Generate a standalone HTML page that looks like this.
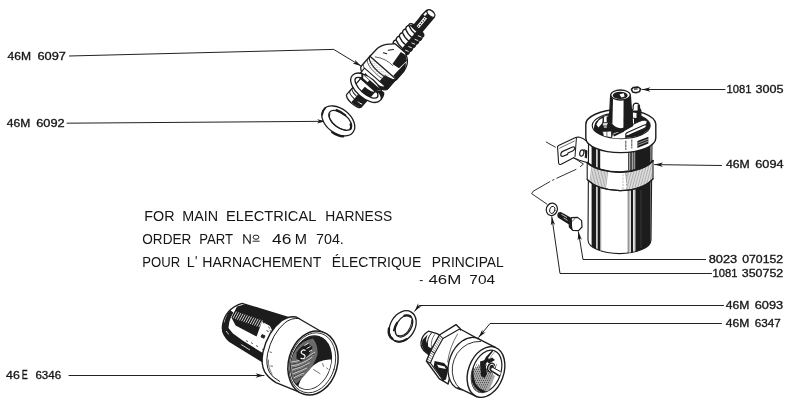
<!DOCTYPE html>
<html>
<head>
<meta charset="utf-8">
<title>Electrical harness parts</title>
<style>
html,body{margin:0;padding:0;background:#fff;}
body{width:800px;height:400px;overflow:hidden;font-family:"Liberation Sans",sans-serif;}
svg{display:block;filter:grayscale(1);}
text{font-family:"Liberation Sans",sans-serif;fill:#151515;}
.lb{font-size:10.3px;stroke:#151515;stroke-width:0.3px;}
.tx{font-size:13.8px;}
.ld{fill:none;stroke:#222;stroke-width:1;stroke-linecap:round;stroke-linejoin:round;}
.ar{fill:#1a1a1a;stroke:none;}
.o{fill:#fff;stroke:#1c1c1c;stroke-width:1.1;stroke-linejoin:round;stroke-linecap:round;}
.ot{fill:#fff;stroke:#1c1c1c;stroke-width:1.6;stroke-linejoin:round;stroke-linecap:round;}
.n{fill:none;stroke:#1c1c1c;stroke-width:1;stroke-linejoin:round;stroke-linecap:round;}
.nt{fill:none;stroke:#1c1c1c;stroke-width:1.7;stroke-linejoin:round;stroke-linecap:round;}
.nl{fill:none;stroke:#333;stroke-width:0.7;stroke-linejoin:round;stroke-linecap:round;}
.k{fill:#1c1c1c;stroke:none;}
.g{fill:#777;stroke:none;}
.w{fill:#fff;stroke:none;}
.wl{fill:none;stroke:#fff;stroke-width:0.9;stroke-linecap:round;}
.h{fill:none;stroke:#666;stroke-width:0.55;}
.hd{fill:none;stroke:#222;stroke-width:0.7;}
</style>
</head>
<body>
<svg width="800" height="400" viewBox="0 0 800 400">
<rect x="0" y="0" width="800" height="400" fill="#ffffff"/>
<!-- p_text -->
<g id="labels" class="lb">
<text x="7.6" y="59.8" textLength="23.5" lengthAdjust="spacingAndGlyphs">46M</text>
<text x="37.5" y="59.8" textLength="28.5" lengthAdjust="spacingAndGlyphs">6097</text>
<text x="6.8" y="127" textLength="23.5" lengthAdjust="spacingAndGlyphs">46M</text>
<text x="36.2" y="127" textLength="28.5" lengthAdjust="spacingAndGlyphs">6092</text>
<text x="6" y="379" textLength="13.8" lengthAdjust="spacingAndGlyphs" style="font-size:11.5px">46</text>
<text x="21.8" y="379" textLength="6" lengthAdjust="spacingAndGlyphs" style="font-size:12.4px">E</text>
<text x="35.4" y="378.7" textLength="25.8" lengthAdjust="spacingAndGlyphs" style="font-size:10px">6346</text>
<text x="726.4" y="93.2" textLength="25" lengthAdjust="spacingAndGlyphs">1081</text>
<text x="755.6" y="93.2" textLength="28" lengthAdjust="spacingAndGlyphs">3005</text>
<text x="726" y="168.2" textLength="23.8" lengthAdjust="spacingAndGlyphs">46M</text>
<text x="755.3" y="168.2" textLength="28.2" lengthAdjust="spacingAndGlyphs">6094</text>
<text x="708.7" y="263.2" textLength="28.5" lengthAdjust="spacingAndGlyphs">8023</text>
<text x="742.2" y="263.2" textLength="41" lengthAdjust="spacingAndGlyphs">070152</text>
<text x="712.4" y="277" textLength="25" lengthAdjust="spacingAndGlyphs">1081</text>
<text x="741.8" y="277" textLength="41.4" lengthAdjust="spacingAndGlyphs">350752</text>
<text x="725.8" y="309" textLength="23.6" lengthAdjust="spacingAndGlyphs">46M</text>
<text x="754.7" y="309" textLength="28.4" lengthAdjust="spacingAndGlyphs">6093</text>
<text x="725.8" y="327" textLength="23.6" lengthAdjust="spacingAndGlyphs">46M</text>
<text x="754.7" y="327" textLength="26" lengthAdjust="spacingAndGlyphs">6347</text>
</g>
<g id="maintext" class="tx">
<text x="144.3" y="221.3" textLength="30.2" lengthAdjust="spacingAndGlyphs">FOR</text>
<text x="182.3" y="221.3" textLength="35.8" lengthAdjust="spacingAndGlyphs">MAIN</text>
<text x="226" y="221.3" textLength="90.3" lengthAdjust="spacingAndGlyphs">ELECTRICAL</text>
<text x="325.3" y="221.3" textLength="66.8" lengthAdjust="spacingAndGlyphs">HARNESS</text>
<text x="142.3" y="243.8" textLength="49" lengthAdjust="spacingAndGlyphs">ORDER</text>
<text x="199.3" y="243.8" textLength="33.8" lengthAdjust="spacingAndGlyphs">PART</text>
<text x="272" y="243.8" textLength="19.4" lengthAdjust="spacingAndGlyphs">46</text>
<text x="294.8" y="243.8" textLength="12.2" lengthAdjust="spacingAndGlyphs">M</text>
<text x="316" y="243.8" textLength="27.8" lengthAdjust="spacingAndGlyphs">704.</text>
<text x="142.3" y="267" textLength="37.8" lengthAdjust="spacingAndGlyphs">POUR</text>
<text x="186.8" y="267" textLength="8" lengthAdjust="spacingAndGlyphs">L</text>
<text x="195" y="266" textLength="2.4" lengthAdjust="spacingAndGlyphs">'</text>
<text x="202.3" y="267" textLength="119" lengthAdjust="spacingAndGlyphs">HARNACHEMENT</text>
<text x="331.8" y="267" textLength="89.5" lengthAdjust="spacingAndGlyphs">ÉLECTRIQUE</text>
<text x="431.8" y="267" textLength="72" lengthAdjust="spacingAndGlyphs">PRINCIPAL</text>
<text x="419.3" y="283.9" textLength="4" lengthAdjust="spacingAndGlyphs" style="font-size:13px">-</text>
<text x="428.5" y="283.9" textLength="32.8" lengthAdjust="spacingAndGlyphs" style="font-size:13px">46M</text>
<text x="469.3" y="283.9" textLength="25.8" lengthAdjust="spacingAndGlyphs" style="font-size:13px">704</text>
<path d="M243.8 243.8 V234.3 L250.2 243.7 V234.2" fill="none" stroke="#1a1a1a" stroke-width="1.15" stroke-linejoin="bevel"/>
<ellipse cx="256" cy="237.2" rx="2.9" ry="2.1" fill="none" stroke="#222" stroke-width="1"/>
<path d="M252.6 241.2 L259.6 241.2" fill="none" stroke="#222" stroke-width="1"/>
</g>
<!-- p_leaders -->
<g id="leaders">
<path class="ld" d="M69.4 56.0 L333.7 49.4 L361.0 66.0"/>
<path class="ar" d="M361.00 66.00 L352.59 63.46 L355.77 62.82 L354.88 59.70 Z"/>
<path class="ld" d="M67.0 123.2 L325.5 121.3"/>
<path class="ar" d="M325.50 121.30 L317.02 123.56 L319.38 121.34 L316.98 119.16 Z"/>
<path class="ld" d="M69.0 375.5 L264.0 375.5"/>
<path class="ar" d="M264.00 375.50 L255.50 377.70 L257.88 375.50 L255.50 373.30 Z"/>
<path class="ld" d="M725.0 89.5 L642.0 89.5"/>
<path class="ar" d="M642.00 89.50 L650.50 87.30 L648.12 89.50 L650.50 91.70 Z"/>
<path class="ld" d="M721.5 165.5 L654.5 164.6"/>
<path class="ar" d="M654.50 164.60 L663.03 162.51 L660.62 164.68 L662.97 166.91 Z"/>
<path class="ld" d="M705.6 259.5 L583.0 259.5 L578.4 231.8"/>
<path class="ar" d="M578.40 231.80 L581.96 239.82 L579.40 237.84 L577.62 240.55 Z"/>
<path class="ld" d="M711.5 273.5 L560.0 273.5 L551.8 216.8"/>
<path class="ar" d="M551.80 216.80 L555.19 224.90 L552.68 222.86 L550.84 225.53 Z"/>
<path class="ld" d="M723.5 305.5 L419.2 305.5 L414.6 311.3"/>
<path class="ar" d="M414.60 311.30 L418.16 303.27 L418.40 306.50 L421.61 306.01 Z"/>
<path class="ld" d="M721.5 323.5 L490.0 323.5 L478.6 337.4"/>
<path class="ar" d="M478.60 337.40 L482.29 329.43 L482.48 332.67 L485.69 332.22 Z"/>
</g>
<!-- p_coil -->
<g id="coil">
<defs>
<clipPath id="cbody"><path d="M588.6 140 L588 240 A31.5 13.6 0 0 0 651 240 L652 140 Z"/></clipPath>
<clipPath id="cband"><path d="M587.2 162.5 A37 19.3 0 0 0 653 160.6 L653 178.8 A37 21.2 0 0 1 587.2 179.4 Z"/></clipPath>
<clipPath id="ccapin"><ellipse cx="621.2" cy="125.6" rx="29" ry="13"/></clipPath>
</defs>
<path class="o" d="M557.6 147.6 Q557 146.2 558.6 145.4 L575.6 137.6 Q577.2 136.9 579.6 137.3 L583 138.4 Q586 140 588.5 143.6 L588.5 163 L579.4 160.2 L573.6 157.8 L561.2 164.2 Q559 165 558.6 163 Z"/>
<path class="n" d="M576.4 138.4 L575 156.6"/>
<path class="nl" d="M559.6 148.2 L574.4 141"/>
<path class="n" style="stroke-width:1.2" d="M562.6 151.4 L572.6 147 Q575.2 146.4 574.6 148.8 Q574 150.4 572.6 151 L568 153 L567.6 154.4 L563.2 156.2 Q560.6 156.8 560.8 154.2 Q561 152.2 562.6 151.4 Z"/>
<ellipse class="n" cx="581.8" cy="153" rx="2" ry="3.2" transform="rotate(14 581.8 153)" style="stroke-width:1.2"/>
<path class="k" d="M583.4 149 Q586 152 584.6 157.6 L587 158.4 L587.4 150.4 Z"/>
<path class="o" d="M588.6 140 L588 240 A31.5 13.6 0 0 0 651 240 L652 140 Z"/>
<g clip-path="url(#cbody)">
<rect class="k" x="591.6" y="140" width="4.6" height="120"/>
<rect class="k" x="597.6" y="140" width="2.6" height="120"/>
<rect class="g" x="600.2" y="186" width="1" height="70" style="fill:#999"/>
<rect x="628" y="140" width="9" height="30" fill="#4a4a4a"/>
<path d="M629.6 140 V170 M632.6 140 V170 M634.8 140 V170" stroke="#ddd" stroke-width="0.7" fill="none"/>
<path d="M628.2 176 V260" stroke="#444" stroke-width="0.8" fill="none"/>
<path d="M629.8 176 V260" stroke="#bbb" stroke-width="1.4" fill="none"/>
<path d="M632 176 V260" stroke="#1c1c1c" stroke-width="2" fill="none"/>
<path d="M634.2 176 V260" stroke="#999" stroke-width="0.8" fill="none"/>
<rect class="k" x="635.4" y="140" width="15.2" height="120"/>
<path d="M641 190 V248" stroke="#555" stroke-width="0.5" fill="none"/>
</g>
<path class="o" d="M587.2 162.5 A37 19.3 0 0 0 653 160.6 L653 178.8 A37 21.2 0 0 1 587.2 179.4 Z"/>
<g clip-path="url(#cband)">
<g transform="translate(0,0)"><path class="h" d="M592.0 166.0 L588.5 192.0 M593.5 166.0 L590.0 192.0 M595.0 166.0 L591.5 192.0 M596.5 166.0 L593.0 192.0 M598.0 166.0 L594.5 192.0 M599.5 166.0 L596.0 192.0 M601.0 166.0 L597.5 192.0 M602.5 166.0 L599.0 192.0 M604.0 166.0 L600.5 192.0 M605.5 166.0 L602.0 192.0 M607.0 166.0 L603.5 192.0 M608.5 166.0 L605.0 192.0"/><path class="h" d="M624.0 164.0 L628.5 192.0 M625.6 164.0 L630.1 192.0 M627.2 164.0 L631.7 192.0 M628.8 164.0 L633.3 192.0 M630.4 164.0 L634.9 192.0 M632.0 164.0 L636.5 192.0 M633.6 164.0 L638.1 192.0 M635.2 164.0 L639.7 192.0 M636.8 164.0 L641.3 192.0 M638.4 164.0 L642.9 192.0 M640.0 164.0 L644.5 192.0 M641.6 164.0 L646.1 192.0 M643.2 164.0 L647.7 192.0 M644.8 164.0 L649.3 192.0 M646.4 164.0 L650.9 192.0 M648.0 164.0 L652.5 192.0 M649.6 164.0 L654.1 192.0 M651.2 164.0 L655.7 192.0"/></g>
<path d="M623 168 V194 M626.5 168 V194" stroke="#888" stroke-width="0.6" stroke-dasharray="2 1.2" fill="none"/>
</g>
<path class="nt" d="M587.2 162.5 A37 19.3 0 0 0 653 160.6"/>
<path class="n" d="M587.2 179.4 A37 21.2 0 0 0 653 178.8" style="stroke-width:1.3"/>
<path class="o" style="stroke-width:1.4" d="M585.8 125 L585.8 138 A35 14.6 0 0 0 655.8 138 L655.8 124 A35 15 0 0 0 585.8 125 Z"/>
<ellipse class="o" cx="621.2" cy="125.6" rx="29" ry="13"/>
<g clip-path="url(#ccapin)">
<path class="k" d="M593.6 130 Q594 120 603 116 L612 113 L612 124 L619 131 L634 124 L634 112.6 Q646 114 649.6 121 L650.4 128 L640 136 L612 139.6 L604 137.4 L598 134 Z"/>
<path class="w" d="M596.4 124.6 Q598.6 119.4 602.6 118 L602.4 123 L598.4 127.6 Z"/>
<path d="M611.6 137.4 L612.6 133.6 L640 121.2 Q645.6 119 647 121.6 Q647.6 124 644 126 L628 133.6 Q624 136.4 626.4 138.6 L612 140 Z" fill="#fff" stroke="#1c1c1c" stroke-width="0.9"/>
<path d="M626 135.4 Q624.8 133.6 628 132.2 L643 125.4 Q646.6 124 646.4 126 Q646.4 127.6 643.6 128.8 L630 134.8 Q627 136.2 626 135.4 Z" fill="#fff" stroke="#1c1c1c" stroke-width="1.1"/>
<path class="k" d="M613 134.6 L623 130.4 L624.4 131.6 L614 136.6 Z"/>
<path d="M603.6 116.6 Q606.2 114 609 116.6 L609.2 128 L603.4 128 Z" fill="#fff" stroke="#1c1c1c" stroke-width="0.9"/>
<path class="k" d="M606.6 116.6 L609 117 L609.2 128 L606.8 128 Z"/>
<path d="M602.6 122.6 L609.6 122.6 L609.6 126 L602.6 126 Z" fill="#ddd" stroke="#1c1c1c" stroke-width="0.8"/>
<path d="M602.4 131.4 L611.4 131 L611.6 137.6 L603.6 136.4 Z" fill="#fff" stroke="#1c1c1c" stroke-width="0.8"/>
<path class="nl" d="M606.8 131.4 L607 137"/>
</g>
<path class="k" d="M637.4 141 L648.4 136.8 L648.4 143.6 L637.4 148 Z"/>
<path d="M637.6 143.2 L648.4 139 M637.6 145.4 L648.4 141.2" stroke="#fff" stroke-width="0.55" fill="none"/>
<path class="n" d="M625.8 141 V149.6 M631.8 140 V148" style="stroke-width:0.8;stroke-dasharray:2.4 1.2"/>
<path class="o" style="stroke-width:1.2" d="M632.4 118 L632.2 110.4 L633.2 108.6 Q632.4 103.4 636.2 103.2 Q640 103.2 639.6 108.4 L640.8 110 L641 119.4 Z"/>
<path class="k" d="M637.6 104.6 Q639.8 105 639.6 108.4 L640.8 110 L641 119.4 L636.4 119 L636.6 113 L632.4 112.6 L632.4 110.4 L637.6 110.4 Z"/>
<path class="o" style="stroke-width:1.3" d="M610.7 95 L609.2 122 L607.6 125.4 Q609 130 616 131.6 Q622 132 625 130 L632.6 125.6 L630.3 95 Z"/>
<path class="k" d="M623.6 99.8 L630.4 96 L632.6 125.6 L624.4 130.6 L623.4 128 Z"/>
<path class="k" d="M610.7 96 L613 98.8 L612.4 124 L609.4 122.6 Z"/>
<path class="k" d="M607.6 125.4 Q609 130 616 131.6 Q622 132 625 130 L624 127.6 Q617 129.6 612.4 124 L609.2 122 Z"/>
<ellipse class="o" style="stroke-width:1.3" cx="620.5" cy="95" rx="9.8" ry="5"/>
<ellipse class="k" cx="620.2" cy="95.4" rx="7.4" ry="3.6"/>
<path class="w" d="M619.4 94.2 L623.8 93.2 L624.6 96.4 L621.4 97.4 Z"/>
<path d="M631.4 89.4 L633.4 87.4 L638 87 L640.6 88.8 L639.6 91.6 L636 92.8 L632.6 92 Z" fill="#fff" stroke="#1c1c1c" stroke-width="1.5" stroke-linejoin="round"/>
<path d="M634 89.2 L637.6 88.8" stroke="#1c1c1c" stroke-width="1.2" fill="none"/>
<path class="n" style="stroke-width:0.9" d="M546.2 142 L555.4 147.2 M573.4 157.6 L583.4 164 L580.4 166.6 M576 169.4 L556.8 178.2 M554 179.6 L552.6 180.2 M549.8 181.7 L533.1 191.3 L531.6 193.6 L546.8 204"/>
<ellipse class="o" cx="551.8" cy="209.3" rx="5.5" ry="6.3" transform="rotate(18 551.8 209.3)" style="stroke-width:1.2"/>
<ellipse class="n" cx="552.3" cy="209.9" rx="2.6" ry="3.7" transform="rotate(18 552.3 209.9)" style="stroke-width:0.9"/>
<path class="k" d="M558 212.8 Q556.6 215 557.8 217.4 L569 224.6 L572.4 218.4 L561.4 212.2 Q559.4 211.6 558 212.8 Z"/>
<path d="M561.4 214.2 L567 217.6 M563.6 217.8 L567.6 220.4" stroke="#fff" stroke-width="0.7" fill="none"/>
<path class="o" style="stroke-width:1.2" d="M571.6 217.6 L577.6 217.4 L581.6 220.6 L582 227 L578.6 230.6 L572.8 230.4 L569.4 227 L569.2 221 Z"/>
<path class="k" d="M571.6 217.6 L569.2 221 L569.4 227 L572.8 230.4 L572 226 L572 221 Z"/>
<path class="nl" d="M572 221.4 L575 218.6"/>
</g>
<!-- p_plug -->
<g id="plug" transform="translate(352 103) rotate(-48.7)">
<path class="k" d="M98 -5.6 L108 -5.8 Q112 -6.6 114.5 -6.2 L119 -5.8 Q123 -3.4 122.8 0.4 Q122.4 4.4 118.6 5.8 L112 6 L98 6.2 Z"/>
<path class="w" d="M100 -2.2 L112.6 -2.6 L113 0.6 L100 1 Z"/>
<path d="M101 -0.8 h1.2 M103.4 -0.6 h1.2 M105.8 -0.9 h1.2 M108.2 -0.7 h1.2 M110.6 -0.9 h1.2" stroke="#1c1c1c" stroke-width="1.4" fill="none"/>
<path class="w" d="M113.4 -4.6 L117.4 -4.6 L117 -2.4 L113.6 -2.6 Z"/>
<ellipse cx="119.4" cy="0.2" rx="2.5" ry="4.7" fill="#fff" stroke="#1c1c1c" stroke-width="1.1"/>
<path class="o" style="stroke-width:1.3" d="M72 -8.6 Q74.3 -10.4 76.6 -8.6 Q79 -10.4 81.4 -8.6 Q83.8 -10.4 86.2 -8.6 Q88.6 -10.4 91 -8.6 Q93.4 -10.4 95.8 -8.6 Q97.6 -9.8 99 -7.6 L99.6 -5.4 L99.6 6 L99 8.4 Q97.6 10.6 95.8 9.2 Q93.4 11 91 9.2 Q88.6 11 86.2 9.2 Q83.8 11 81.4 9.2 Q79 11 76.6 9.2 Q74.3 11 72 9.2 Z"/>
<path class="k" d="M72 1.6 L99.6 1 L99.6 6 L99 8.4 Q97.6 10.6 95.8 9.2 Q93.4 11 91 9.2 Q88.6 11 86.2 9.2 Q83.8 11 81.4 9.2 Q79 11 76.6 9.2 Q74.3 11 72 9.2 Z"/>
<path class="n" style="stroke-width:1.3" d="M76.6 -8.6 Q73.8 -3 74.4 2"/>
<path class="wl" style="stroke-width:0.8" d="M75.0 5.4 L76.0 8.2"/>
<path class="n" style="stroke-width:1.3" d="M81.4 -8.6 Q78.6 -3 79.2 2"/>
<path class="wl" style="stroke-width:0.8" d="M79.8 5.4 L80.8 8.2"/>
<path class="n" style="stroke-width:1.3" d="M86.2 -8.6 Q83.4 -3 84.0 2"/>
<path class="wl" style="stroke-width:0.8" d="M84.6 5.4 L85.6 8.2"/>
<path class="n" style="stroke-width:1.3" d="M91.0 -8.6 Q88.2 -3 88.8 2"/>
<path class="wl" style="stroke-width:0.8" d="M89.4 5.4 L90.4 8.2"/>
<path class="n" style="stroke-width:1.3" d="M95.8 -8.6 Q93.0 -3 93.6 2"/>
<path class="wl" style="stroke-width:0.8" d="M94.2 5.4 L95.2 8.2"/>
<path class="k" d="M96.4 -8.6 L99.6 -5.4 L99.6 1.4 L96 1.4 Z"/>
<path class="o" style="stroke-width:1.3" d="M47 -17.4 L58 -17 Q66 -15 70 -9.4 L73 -6.8 L73 7 L70 12 Q66 17 58 18 L47 18 A6.3 17.6 0 0 1 47 -17.4 Z"/>
<path class="k" d="M56 4.6 L70.6 3 L71.4 8.6 L68 13.4 L57 12.4 Z"/>
<path class="k" d="M48 13 L66 13.6 Q62 17.8 57.6 18.2 L47 18.2 Z"/>
<path class="n" style="stroke-width:1.1" d="M63.6 -7.6 L67.6 -4.2 M58.4 -9.6 L60 -6.4"/>
<path class="nl" d="M50 -13 Q56 -4 55 6"/>
<path class="o" style="stroke-width:1.3" d="M47.0 -17.4 L34.0 -17.4 A6.3 17.4 0 0 0 34.0 17.4 L47.0 17.4 Z"/>
<path class="k" d="M28.7 6.3 A6.3 17.6 0 0 0 34.6 18.0 L48.6 18.0 A6.3 17.6 0 0 1 42.7 6.3 Z"/>
<path class="n" style="stroke-width:1.2" d="M47.0 -17.4 A6.3 17.4 0 0 0 47.0 17.4"/>
<path class="nl"  d="M44.0 -17.4 A6.3 17.4 0 0 0 39.1 11.0"/>
<path class="nl"  d="M38.0 -17.4 A6.3 17.4 0 0 0 33.1 11.0"/>
<path d="M41.4 -13.0 h0.6 M40.6 -10.4 h0.6 M40.0 -7.8 h0.6 M39.6 -5.2 h0.6 M39.4 -2.6 h0.6 M39.3 0.0 h0.6 M39.4 2.6 h0.6 M39.6 5.2 h0.6 M40.0 7.8 h0.6 M42.2 -11.7 h0.6 M41.5 -9.1 h0.6 M41.0 -6.5 h0.6 M40.7 -3.9 h0.6 M40.6 -1.3 h0.6 M40.6 1.3 h0.6 M40.7 3.9 h0.6 M41.0 6.5 h0.6 M41.5 9.1 h0.6 M43.8 -13.0 h0.6 M43.0 -10.4 h0.6 M42.4 -7.8 h0.6 M42.0 -5.2 h0.6 M41.8 -2.6 h0.6 M41.7 0.0 h0.6 M41.8 2.6 h0.6 M42.0 5.2 h0.6 M42.4 7.8 h0.6 M44.6 -11.7 h0.6 M43.9 -9.1 h0.6 M43.4 -6.5 h0.6 M43.1 -3.9 h0.6 M43.0 -1.3 h0.6 M43.0 1.3 h0.6 M43.1 3.9 h0.6 M43.4 6.5 h0.6 M43.9 9.1 h0.6 M46.2 -13.0 h0.6 M45.4 -10.4 h0.6 M44.8 -7.8 h0.6 M44.4 -5.2 h0.6 M44.2 -2.6 h0.6 M44.1 0.0 h0.6 M44.2 2.6 h0.6 M44.4 5.2 h0.6 M44.8 7.8 h0.6" stroke="#444" stroke-width="0.6" fill="none"/>
<path class="o"  d="M34.5 -13.6 L27.0 -13.6 A4.9 13.6 0 0 0 27.0 13.6 L34.5 13.6 Z"/>
<path class="k" d="M23.9 -9.5 A4.9 13.6 0 0 0 27.4 13.6 L35.0 13.6 A4.9 13.6 0 0 1 31.5 -9.5 Z"/>
<path class="wl"  d="M26.9 -9.0 A4.9 13.6 0 0 0 26.2 6.0"/>
<path class="n"  d="M31.0 -13.6 A4.9 13.6 0 0 0 26.2 -3.0"/>
<path class="o" style="stroke-width:1.3" d="M24.0 -9.6 L3.0 -9.6 A3.5 9.6 0 0 0 3.0 9.6 L24.0 9.6 Z"/>
<path class="k" d="M-0.0 -1.0 A3.5 9.6 0 0 0 3.4 9.6 L24.0 9.6 A3.5 9.6 0 0 1 20.6 -1.0 Z"/>
<path class="n"  d="M8.0 -9.6 A3.5 9.6 0 0 0 4.6 -1.0"/>
<path class="n"  d="M11.5 -9.6 A3.5 9.6 0 0 0 8.1 -1.0"/>
<path class="n"  d="M15.0 -9.6 A3.5 9.6 0 0 0 11.6 -1.0"/>
<path class="wl" d="M5 4 Q4.4 6 5.6 8"/>
<ellipse cx="21" cy="0.8" rx="8.2" ry="16.6" fill="none" stroke="#1c1c1c" stroke-width="5.6"/>
<ellipse cx="21" cy="0.8" rx="8.2" ry="16.6" fill="none" stroke="#fff" stroke-width="3"/>
<path class="k" d="M25 -9.6 L29 -13 L29 13.8 L25 9.8 Z"/>
<path class="w" d="M26 -8 L28.4 -10 L28.4 -2 L26 -2 Z"/>
<path class="k" d="M24 9 Q30 14 29 17.6 Q26 20.4 21 20 Q27 15 24 9 Z"/>
</g>
<!-- p_washers -->
<g id="washers">
<g transform="translate(338.3 120.9) rotate(38)">
<ellipse class="o" cx="0" cy="0" rx="18.6" ry="12.2" style="stroke-width:1.3"/>
<path class="n" style="stroke-width:2.2" d="M2 12.6 Q9 12.4 13.4 9.2"/>
<path class="n" style="stroke-width:1.6" d="M-18.2 -2.4 Q-18.8 1.6 -16.4 5.4"/>
<ellipse class="o" cx="1.2" cy="-1.6" rx="13.4" ry="7" style="stroke-width:1.3"/>
<path class="n" style="stroke-width:2.2" d="M-8 -7.4 Q-3 -9 2 -8.7"/>
<path class="n" style="stroke-width:2" d="M11.6 -5 Q14.6 -3 14.6 -1"/>
<path class="n" style="stroke-width:1" d="M-11 -0.4 Q-10 4 -3 5.4 Q6 6.2 12 2.4"/>
</g>
<g transform="translate(402.7 326.3) rotate(-59)">
<ellipse class="o" cx="0" cy="0" rx="16.6" ry="12.2" style="stroke-width:1.3"/>
<path class="n" style="stroke-width:2.4" d="M-16 -2.4 Q-16 -8 -9 -10.6"/>
<path class="n" style="stroke-width:2" d="M-16.4 1 Q-15.4 7 -9 10"/>
<ellipse class="o" cx="0.8" cy="1" rx="11.8" ry="7.4" style="stroke-width:1.3"/>
<path class="n" style="stroke-width:1" d="M-10 0.6 Q-9.4 5.6 -2 7 Q5 7.6 10 4.6"/>
<path class="n" style="stroke-width:2.2" d="M10 -4 Q12.6 -1.6 12.4 1.6"/>
<path class="n" style="stroke-width:2" d="M-8 -5.4 Q-4 -6.8 0 -6.6"/>
</g>
</g>
<!-- p_socket -->
<g id="socket">
<defs>
<clipPath id="sk_open"><ellipse cx="311" cy="362.6" rx="19.6" ry="27.2" transform="rotate(17 311 362.6)"/></clipPath>
<clipPath id="sk_body"><path d="M242 303.4 L292 318.6 L266 364 L229.6 341.4 Q221 334 222.6 325 Q225 309 242 303.4 Z"/></clipPath>
</defs>
<path class="o" style="stroke-width:1.4" d="M242 303.4 L292 318.6 L266 364 L229.6 341.4 Q221 334 222.6 325 Q225 309 242 303.4 Z"/>
<g clip-path="url(#sk_body)">
<path class="k" d="M237 306.4 L246 304 L262 307.2 L292 318.6 L282 336 L272 333 L262 321.6 L256.6 336.6 L235.6 325.6 L231.4 317.4 Z"/>
<path d="M236.6 311.6 l-3.6 6.6 M238.8 312.3 l-3.6 6.6 M240.9 313.1 l-3.6 6.6 M243.0 313.8 l-3.6 6.6 M245.2 314.5 l-3.6 6.6 M247.3 315.3 l-3.6 6.6 M249.5 316.0 l-3.6 6.6 M251.6 316.7 l-3.6 6.6 M253.8 317.5 l-3.6 6.6 M255.9 318.2 l-3.6 6.6 M258.1 318.9 l-3.6 6.6 M260.2 319.7 l-3.6 6.6 M262.4 320.4 l-3.6 6.6" stroke="#fff" stroke-width="0.8" fill="none"/>
<path class="w" d="M263.6 322.6 L270 326 L272.6 331.6 L266 328.6 Z"/>
<path class="k" d="M230 310 Q224 318 223.4 329 L228.6 333.6 Q227.4 322 233.4 312.6 Z"/>
<path class="k" d="M223 320 L227.6 327 L233 333.6 L243 340.8 L262 352.6 L270 357 L266 366 L236 350.4 L224.6 340.6 L221 330 Z"/>
<path d="M226 331 L232 338 M238 342.6 L250 350" stroke="#fff" stroke-width="0.8" fill="none"/>
<path class="k" d="M228.6 333.6 L236 337.4 L241.6 344.6 L238 346 L229.6 339.6 Z"/>
<path d="M246 340.6 l2 1 M251 342.6 l2 1 M256 345.6 l2 1 M262 349 l2 1 M268.6 326.6 l1 2 M272 336 l-1 2 M270 341 l1.2 .6" stroke="#333" stroke-width="0.8" fill="none"/>
<path d="M262 334.6 l3 1.2 l-1 2.4 l-3 -1.2 Z M266.6 330.6 l2 1" stroke="#222" stroke-width="0.9" fill="#222"/>
</g>
<path class="o" style="stroke-width:1.4" d="M296.2 317 Q289 315.6 281.6 320.6 Q268 331 263 352 Q260.6 364 264.6 371.6 Q268 377.6 276 382.6 L300 392.4 L322 332 Z"/>
<path class="n" style="stroke-width:1" d="M299.6 318.4 Q291 317.6 284.6 323 Q272 334 267.6 353.4 Q265.4 365 269.6 372.6 Q272 377 279.6 381.4"/>
<path class="nl" d="M268.4 360 Q268 368 272 374 M270 352 l1.6 .4 M270.6 366 l2 .2"/>
<ellipse class="o" style="stroke-width:1.5" cx="313" cy="363" rx="24.4" ry="32.6" transform="rotate(16 313 363)"/>
<ellipse class="n" style="stroke-width:0.8" cx="312.4" cy="362.8" rx="22.6" ry="30.6" transform="rotate(16.5 312.4 362.8)"/>
<ellipse class="o" style="stroke-width:1.3" cx="311" cy="362.6" rx="19.6" ry="27.2" transform="rotate(17 311 362.6)"/>
<g clip-path="url(#sk_open)">
<rect class="k" x="280" y="330" width="65" height="70"/>
<path class="w" d="M298.6 385 Q302 376 309 369.6 Q319 358.6 331.4 359.6 L340 358 L336 386 L312 398 L298 394 Z"/>
<path class="nl" d="M313.6 369.6 L320 373.6 M322.6 363.6 L323.6 366.4 M326.6 368 l1.4 1"/>
<path d="M313 338.6 Q318.6 346 317.4 355 Q314 366 305 375 Q300 380.6 296 384 Q290 378 288.6 370 Q289.6 358 296.6 348.6 Q303.6 340 313 338.6 Z" fill="#6a6a6a"/>
<path d="M290.0 362.0 Q301.0 362.0 315.0 352.0 M290.4 364.0 Q301.2 363.3 313.7 354.7 M290.9 366.0 Q301.4 364.7 312.3 357.3 M291.3 368.0 Q301.7 366.0 311.0 360.0 M291.8 370.0 Q301.9 367.3 309.7 362.7 M292.2 372.0 Q302.1 368.7 308.3 365.3 M292.7 374.0 Q302.3 370.0 307.0 368.0 M293.1 376.0 Q302.6 371.3 305.7 370.7 M293.6 378.0 Q302.8 372.7 304.3 373.3 M294.0 380.0 Q303.0 374.0 303.0 376.0" stroke="#eee" stroke-width="0.7" fill="none"/>
<path d="M291.0 364.0 Q301.0 364.0 314.0 354.0 M291.8 368.0 Q301.5 366.8 311.2 359.5 M292.5 372.0 Q302.0 369.5 308.5 365.0 M293.2 376.0 Q302.5 372.2 305.8 370.5 M294.0 380.0 Q303.0 375.0 303.0 376.0" stroke="#222" stroke-width="0.8" fill="none"/>
<path class="k" d="M296.6 352.6 Q300.6 346 308 343.6 L312.6 347 Q309.6 356.6 301 361.6 L296.4 358.6 Z"/>
<path d="M305.6 350.6 Q303 349 301.4 351.4 Q300.6 353.6 303.4 354.4 Q306 355.4 304.6 357.8 Q303 359.6 300.6 358" stroke="#fff" stroke-width="1.2" fill="none"/>
<path d="M304.4 345.6 l4 -2.4 M306.6 348.6 l4 -2.2 M309 351.6 l3 -1.6" stroke="#fff" stroke-width="0.9" fill="none"/>
</g>
</g>
<!-- p_lamp -->
<g id="lamp">
<defs>
<clipPath id="lp_open"><ellipse cx="486.6" cy="371.4" rx="14" ry="22" transform="rotate(21 486.6 371.4)"/></clipPath>
</defs>
<path class="o" style="stroke-width:1.3" d="M428.4 331.2 L437 333.6 L441 336 L431 356.6 L426 352.6 Q420.6 348.6 421 342.6 Q422 334.6 428.4 331.2 Z"/>
<path class="k" d="M422.4 340 Q421 346 424 350.4 L431 356.6 L434 350 L428 346.4 L426 340 L427.6 334.6 Z"/>
<path class="n" style="stroke-width:1" d="M431.4 333 Q426.4 338.6 427.6 346.4"/>
<path class="nl" d="M434.6 334.6 Q430.4 340 431.4 348"/>
<path class="o" style="stroke-width:1.4" d="M456 324.6 L460 328.6 L462 333 L448 384 L444 381.4 L439.4 378.8 L426.4 361 L430.8 350.4 L439.4 335 Z"/>
<path class="n" style="stroke-width:1.1" d="M459.6 329 L443 338.6 L434.6 353.4 L430.4 363 L443.4 380.6"/>
<path class="n" style="stroke-width:1" d="M439.4 335 L443 338.6 M430.8 350.4 L434.6 353.4 M426.4 361 L430.4 363"/>
<path d="M439.4 335.0 l3.4 3 M438.3 336.9 l3.4 3 M437.2 338.9 l3.4 3 M436.2 340.8 l3.4 3 M435.1 342.7 l3.4 3 M434.0 344.6 l3.4 3 M432.9 346.5 l3.4 3 M431.9 348.5 l3.4 3 M430.8 350.4 l3.4 3 M430.8 350.4 l3.6 2.4 M429.9 352.5 l3.6 2.4 M429.0 354.6 l3.6 2.4 M428.2 356.8 l3.6 2.4 M427.3 358.9 l3.6 2.4 M426.4 361.0 l3.6 2.4" stroke="#333" stroke-width="0.6" fill="none"/>
<path class="k" d="M434.6 361 L444 363 L448.6 368 L446 379.6 L443.4 380.6 L433.6 366.6 Z"/>
<path class="w" d="M437 364.6 L444.6 366.4 L446 369 L438.6 367.6 Z"/>
<path class="w" d="M461 329.4 L479 339.4 L470 380 L455 386 L449 376 Q450 352 461 329.4 Z"/>
<path class="n" style="stroke-width:1.3" d="M460.6 329.2 L479 339.4"/>
<path class="nl" d="M457.6 334 Q449.6 347 447.6 362"/>
<ellipse class="o" style="stroke-width:1.3" cx="468" cy="363.6" rx="18.8" ry="27" transform="rotate(20.5 468 363.6)"/>
<path class="w" d="M478.4 338.6 L495.6 347.2 L478 397 L458.6 388.4 Z"/>
<path class="n" style="stroke-width:1.3" d="M477.4 338.4 L495.4 347.4 M477.2 396.8 L458 387.6"/>
<path class="n" style="stroke-width:0.9" d="M480.6 341.4 Q466 341 457 353.6 Q449.6 366 453.6 379 Q455.6 385 461 389.6"/>
<ellipse class="o" style="stroke-width:1.4" cx="486" cy="372" rx="17.6" ry="26.2" transform="rotate(20.5 486 372)"/>
<ellipse class="o" style="stroke-width:1.2" cx="486.6" cy="371.4" rx="14" ry="22" transform="rotate(21 486.6 371.4)"/>
<g clip-path="url(#lp_open)">
<path d="M469 372 L481 364 L495 376 L489 391 L476 395 L468 386 Z" fill="#a8a8a8"/>
<path d="M470.0 365.0 h1 M471.0 367.2 h1 M470.0 369.4 h1 M471.0 371.6 h1 M470.0 373.8 h1 M471.0 376.0 h1 M470.0 378.2 h1 M471.0 380.4 h1 M470.0 382.6 h1 M471.0 384.8 h1 M470.0 387.0 h1 M471.0 389.2 h1 M470.0 391.4 h1 M472.0 365.0 h1 M473.0 367.2 h1 M472.0 369.4 h1 M473.0 371.6 h1 M472.0 373.8 h1 M473.0 376.0 h1 M472.0 378.2 h1 M473.0 380.4 h1 M472.0 382.6 h1 M473.0 384.8 h1 M472.0 387.0 h1 M473.0 389.2 h1 M472.0 391.4 h1 M474.0 365.0 h1 M475.0 367.2 h1 M474.0 369.4 h1 M475.0 371.6 h1 M474.0 373.8 h1 M475.0 376.0 h1 M474.0 378.2 h1 M475.0 380.4 h1 M474.0 382.6 h1 M475.0 384.8 h1 M474.0 387.0 h1 M475.0 389.2 h1 M474.0 391.4 h1 M476.0 365.0 h1 M477.0 367.2 h1 M476.0 369.4 h1 M477.0 371.6 h1 M476.0 373.8 h1 M477.0 376.0 h1 M476.0 378.2 h1 M477.0 380.4 h1 M476.0 382.6 h1 M477.0 384.8 h1 M476.0 387.0 h1 M477.0 389.2 h1 M476.0 391.4 h1 M478.0 365.0 h1 M479.0 367.2 h1 M478.0 369.4 h1 M479.0 371.6 h1 M478.0 373.8 h1 M479.0 376.0 h1 M478.0 378.2 h1 M479.0 380.4 h1 M478.0 382.6 h1 M479.0 384.8 h1 M478.0 387.0 h1 M479.0 389.2 h1 M478.0 391.4 h1 M480.0 365.0 h1 M481.0 367.2 h1 M480.0 369.4 h1 M481.0 371.6 h1 M480.0 373.8 h1 M481.0 376.0 h1 M480.0 378.2 h1 M481.0 380.4 h1 M480.0 382.6 h1 M481.0 384.8 h1 M480.0 387.0 h1 M481.0 389.2 h1 M480.0 391.4 h1 M482.0 365.0 h1 M483.0 367.2 h1 M482.0 369.4 h1 M483.0 371.6 h1 M482.0 373.8 h1 M483.0 376.0 h1 M482.0 378.2 h1 M483.0 380.4 h1 M482.0 382.6 h1 M483.0 384.8 h1 M482.0 387.0 h1 M483.0 389.2 h1 M482.0 391.4 h1 M484.0 365.0 h1 M485.0 367.2 h1 M484.0 369.4 h1 M485.0 371.6 h1 M484.0 373.8 h1 M485.0 376.0 h1 M484.0 378.2 h1 M485.0 380.4 h1 M484.0 382.6 h1 M485.0 384.8 h1 M484.0 387.0 h1 M485.0 389.2 h1 M484.0 391.4 h1 M486.0 365.0 h1 M487.0 367.2 h1 M486.0 369.4 h1 M487.0 371.6 h1 M486.0 373.8 h1 M487.0 376.0 h1 M486.0 378.2 h1 M487.0 380.4 h1 M486.0 382.6 h1 M487.0 384.8 h1 M486.0 387.0 h1 M488.0 365.0 h1 M489.0 367.2 h1 M488.0 369.4 h1 M489.0 371.6 h1 M488.0 373.8 h1 M489.0 376.0 h1 M488.0 378.2 h1 M489.0 380.4 h1 M488.0 382.6 h1 M490.0 365.0 h1 M491.0 367.2 h1 M490.0 369.4 h1 M491.0 371.6 h1 M490.0 373.8 h1 M491.0 376.0 h1 M490.0 378.2 h1 M492.0 365.0 h1 M493.0 367.2 h1 M492.0 369.4 h1 M493.0 371.6 h1 M492.0 373.8 h1 M494.0 365.0 h1 M495.0 367.2 h1 M494.0 369.4 h1 M496.0 365.0 h1" stroke="#3a3a3a" stroke-width="0.9" fill="none"/>
<path class="k" d="M471.6 366 Q469.4 376 473 384 Q477 391.6 484 393.6 L490 392 Q480 391 475.6 383.6 Q472.4 376 474 367 Z"/>
<path class="k" d="M495.6 346.6 L497.6 348 L490 358 L484 366.6 L481.6 365 L486 357 Z"/>
<path class="w" d="M493.6 350.6 L494.6 351.6 L489 359 L488 358 Z"/>
<path class="k" d="M480 361.6 L485 360 L487 374 L484.6 378 L481 376 Z"/>
<ellipse cx="491.2" cy="367.6" rx="4.2" ry="5.2" transform="rotate(20 491.2 367.6)" fill="#1c1c1c"/>
<ellipse cx="491.6" cy="367.8" rx="2.7" ry="3.6" transform="rotate(20 491.6 367.8)" fill="none" stroke="#fff" stroke-width="0.9"/>
<path class="k" d="M486 361 L492 357.6 L495 360 L489 363.6 Z"/>
<path d="M491.6 366.8 L500.4 371.6 Q502.8 373.4 502 375.2 Q500.8 376.8 498.4 375.8 L490.4 370.6 Z" fill="#fff" stroke="#1c1c1c" stroke-width="1"/>
<path class="k" d="M490.6 369.4 L500.6 375.8 Q499.6 376.4 498.4 375.8 L490.4 370.8 Z"/>
</g>
</g>
</svg>
</body>
</html>
